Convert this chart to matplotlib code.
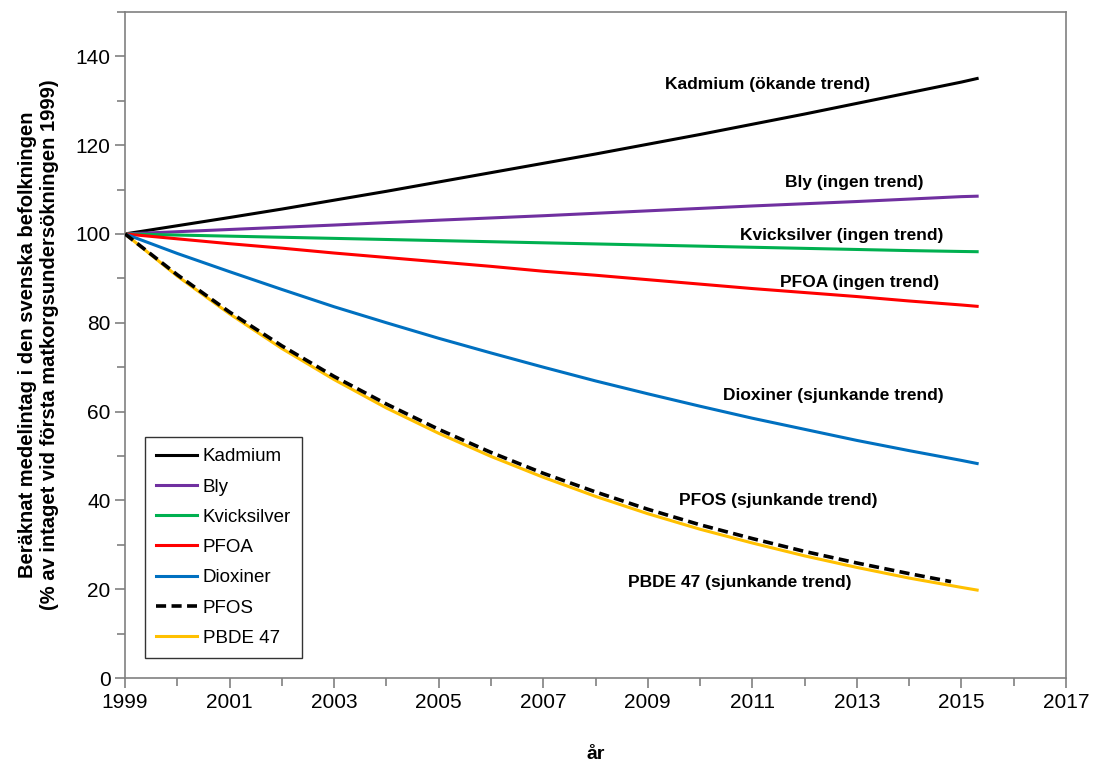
import numpy as np
import matplotlib
matplotlib.use('Agg')
import matplotlib.pyplot as plt
from matplotlib.ticker import MultipleLocator

plt.rcParams['font.family'] = ['Liberation Sans', 'DejaVu Sans']

# år
years = [1999, 2000, 2001, 2002, 2003, 2004, 2005, 2006, 2007, 2008,
         2009, 2010, 2011, 2012, 2013, 2014, 2015, 2015.3]
years_pfos = [1999, 2000, 2001, 2002, 2003, 2004, 2005, 2006, 2007, 2008,
              2009, 2010, 2011, 2012, 2013, 2014, 2014.8]

# beräknat medelintag (% av 1999)
kadmium = [100, 101.85, 103.7, 105.6, 107.6, 109.6, 111.7, 113.8, 115.9,
           118.0, 120.2, 122.4, 124.7, 127.0, 129.4, 131.8, 134.2, 135.0]
bly = [100, 100.5, 101.0, 101.5, 102.0, 102.55, 103.1, 103.6, 104.1,
       104.65, 105.2, 105.75, 106.3, 106.8, 107.3, 107.85, 108.4, 108.5]
kvicksilver = [100, 99.75, 99.5, 99.25, 99.0, 98.75, 98.5, 98.25, 98.0,
               97.75, 97.5, 97.25, 97.0, 96.75, 96.5, 96.25, 96.05, 96.0]
pfoa = [100, 98.9, 97.8, 96.8, 95.7, 94.7, 93.7, 92.7, 91.6,
        90.7, 89.7, 88.7, 87.7, 86.8, 85.9, 84.9, 84.0, 83.7]
dioxiner = [100, 95.6, 91.5, 87.5, 83.6, 80.0, 76.5, 73.2, 70.0,
            66.9, 64.0, 61.2, 58.5, 56.0, 53.5, 51.2, 49.0, 48.3]
pfos = [100, 90.8, 82.4, 74.8, 67.9, 61.7, 56.0, 50.8, 46.1,
        41.9, 38.0, 34.5, 31.4, 28.5, 25.9, 23.5, 21.7]
pbde47 = [100, 90.5, 82.0, 74.2, 67.2, 60.8, 55.1, 49.9, 45.2,
          40.9, 37.0, 33.5, 30.4, 27.5, 24.9, 22.5, 20.4, 19.8]

# etiketter (text, x, y)
labels = [
    ('Kadmium (ökande trend)', 2011.3, 133.7),
    ('Bly (ingen trend)', 2012.95, 111.6),
    ('Kvicksilver (ingen trend)', 2012.7, 99.7),
    ('PFOA (ingen trend)', 2013.06, 89.1),
    ('Dioxiner (sjunkande trend)', 2012.55, 63.6),
    ('PFOS (sjunkande trend)', 2011.5, 39.9),
    ('PBDE 47 (sjunkande trend)', 2010.76, 21.4),
]

xticks = [1999, 2001, 2003, 2005, 2007, 2009, 2011, 2013, 2015, 2017]
yticks = [0, 20, 40, 60, 80, 100, 120, 140]

fig = plt.figure(figsize=(10.93, 7.63), dpi=100)
ax = fig.add_axes([0.1144, 0.1114, 0.8609, 0.873])

lw = 2.2
ax.plot(years, kadmium, color='black', lw=lw, label='Kadmium')
ax.plot(years, bly, color='#7030A0', lw=lw, label='Bly')
ax.plot(years, kvicksilver, color='#00B050', lw=lw, label='Kvicksilver')
ax.plot(years, pfoa, color='#FF0000', lw=lw, label='PFOA')
ax.plot(years, dioxiner, color='#0070C0', lw=lw, label='Dioxiner')
ax.plot(years_pfos, pfos, color='black', lw=2.6, ls=(0, (2.8, 1.5)), label='PFOS', zorder=3)
ax.plot(years, pbde47, color='#FFC000', lw=lw, label='PBDE 47', zorder=2)

for txt, x, y in labels:
    ax.text(x, y, txt, ha='center', va='center', fontsize=12.5, fontweight='bold')

ax.set_xlim(1999, 2017)
ax.set_ylim(0, 150)
ax.set_xticks(xticks)
ax.xaxis.set_minor_locator(MultipleLocator(1))
ax.set_yticks(yticks)
ax.yaxis.set_minor_locator(MultipleLocator(10))

for s in ax.spines.values():
    s.set_color('#808080')
    s.set_linewidth(1.2)
ax.tick_params(which='both', direction='out', color='#808080', width=1.2, labelsize=15)
ax.tick_params(which='major', length=7)
ax.tick_params(which='minor', length=6)

ax.set_xlabel('år', fontsize=14, fontweight='bold', labelpad=25)
ax.set_ylabel('Beräknat medelintag i den svenska befolkningen\n(% av intaget vid första matkorgsundersökningen 1999)',
              fontsize=14.5, fontweight='bold', labelpad=12)

leg = ax.legend(loc='lower left', bbox_to_anchor=(0.021, 0.03), borderaxespad=0,
                fontsize=13.5, frameon=True, fancybox=False, handlelength=2.2,
                labelspacing=0.7, borderpad=0.6, handletextpad=0.3)
leg.get_frame().set_edgecolor('black')
leg.get_frame().set_linewidth(1.0)

fig.savefig('out.png', dpi=100)
